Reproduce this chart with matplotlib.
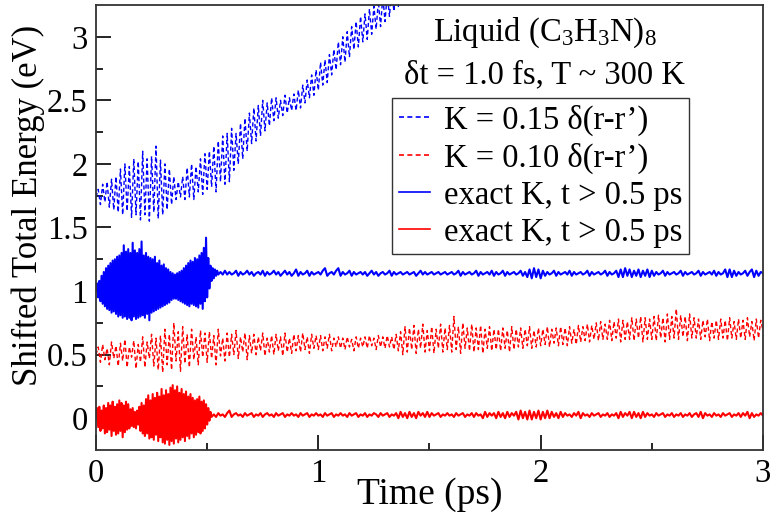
import numpy as np
import matplotlib
matplotlib.use("Agg")
import matplotlib.pyplot as plt

plt.rcParams['font.family'] = ['Liberation Serif', 'DejaVu Serif']
plt.rcParams['mathtext.fontset'] = 'custom'
plt.rcParams['mathtext.rm'] = 'Liberation Serif'
plt.rcParams['mathtext.it'] = 'Liberation Serif:italic'

# ---------------- data ----------------
# K = 0.15 delta(r-r'), sampled every 0.01 ps from t = 0
blue_dashed = [
    1.74,1.80,1.68,1.84,1.70,1.86,1.66,1.88,1.64,1.90,
    1.62,1.96,1.60,2.00,1.63,1.98,1.58,2.04,1.60,2.02,
    1.56,2.10,1.60,2.04,1.55,2.06,1.62,2.14,1.57,2.03,
    1.60,2.00,1.64,1.96,1.68,1.90,1.72,1.86,1.74,1.90,
    1.72,1.97,1.74,2.00,1.72,1.98,1.78,2.04,1.76,2.08,
    1.80,2.10,1.82,2.14,1.78,2.18,1.86,2.22,1.84,2.24,
    1.86,2.28,1.95,2.24,2.00,2.32,2.04,2.36,2.10,2.40,
    2.16,2.44,2.18,2.46,2.22,2.50,2.26,2.48,2.30,2.52,
    2.34,2.52,2.36,2.50,2.38,2.54,2.40,2.52,2.42,2.55,
    2.42,2.58,2.44,2.62,2.48,2.66,2.52,2.70,2.54,2.74,
    2.58,2.80,2.62,2.82,2.64,2.86,2.70,2.90,2.74,2.96,
    2.78,3.00,2.80,3.04,2.84,3.08,2.90,3.12,2.92,3.16,
    2.96,3.18,2.98,3.22,3.02,3.24,3.06,3.28,3.08,3.32,
    3.12,3.34,3.16,3.38,3.20,3.40,3.24,3.44,3.28,3.46,3.32]

# K = 0.10 delta(r-r'), sampled every 0.01 ps from t = 0
red_dashed = [
    0.50,0.56,0.44,0.58,0.46,0.55,0.42,0.60,0.47,0.57,
    0.41,0.59,0.45,0.62,0.40,0.56,0.48,0.61,0.39,0.58,
    0.44,0.64,0.40,0.60,0.47,0.66,0.41,0.63,0.38,0.65,
    0.36,0.70,0.42,0.66,0.38,0.75,0.45,0.68,0.37,0.72,
    0.43,0.66,0.40,0.70,0.46,0.64,0.42,0.69,0.48,0.67,
    0.44,0.68,0.47,0.65,0.42,0.70,0.49,0.63,0.45,0.67,
    0.48,0.66,0.50,0.69,0.47,0.64,0.52,0.67,0.46,0.65,
    0.51,0.66,0.50,0.64,0.53,0.67,0.49,0.63,0.52,0.65,
    0.50,0.66,0.53,0.64,0.49,0.67,0.52,0.63,0.51,0.66,
    0.53,0.65,0.52,0.67,0.54,0.64,0.51,0.66,0.55,0.65,
    0.54,0.65,0.53,0.64,0.55,0.66,0.53,0.63,0.56,0.64,
    0.55,0.63,0.54,0.64,0.56,0.62,0.53,0.64,0.55,0.63,
    0.56,0.64,0.55,0.65,0.57,0.63,0.54,0.65,0.56,0.64,
    0.55,0.65,0.56,0.64,0.54,0.66,0.53,0.68,0.50,0.72,
    0.52,0.71,0.54,0.73,0.51,0.70,0.55,0.74,0.52,0.69,
    0.53,0.72,0.51,0.70,0.55,0.74,0.52,0.71,0.54,0.73,
    0.52,0.80,0.54,0.72,0.51,0.75,0.55,0.71,0.53,0.74,
    0.52,0.71,0.54,0.73,0.51,0.70,0.55,0.72,0.53,0.70,
    0.54,0.70,0.53,0.71,0.55,0.69,0.52,0.72,0.54,0.70,
    0.56,0.71,0.55,0.70,0.57,0.72,0.55,0.69,0.56,0.71,
    0.57,0.70,0.58,0.72,0.56,0.70,0.59,0.71,0.57,0.72,
    0.58,0.71,0.57,0.72,0.59,0.70,0.58,0.73,0.60,0.72,
    0.61,0.74,0.60,0.73,0.62,0.75,0.61,0.76,0.62,0.74,
    0.62,0.77,0.61,0.76,0.63,0.78,0.60,0.77,0.62,0.76,
    0.62,0.79,0.61,0.78,0.63,0.80,0.60,0.79,0.62,0.78,
    0.62,0.80,0.61,0.81,0.63,0.79,0.60,0.82,0.62,0.80,
    0.63,0.86,0.62,0.81,0.64,0.80,0.61,0.82,0.63,0.79,
    0.63,0.78,0.62,0.77,0.64,0.78,0.61,0.76,0.63,0.77,
    0.62,0.78,0.63,0.77,0.61,0.79,0.63,0.76,0.62,0.78,
    0.63,0.77,0.62,0.79,0.64,0.76,0.61,0.78,0.63,0.77,
    0.69]

# exact K (blue): first part every 0.005 ps (t = 0 .. 0.55), then every 0.01 ps
blue_solid_early = [
    1.00,1.06,0.95,1.08,0.92,1.12,0.90,1.15,0.88,1.18,
    0.86,1.20,0.85,1.22,0.83,1.24,0.84,1.25,0.82,1.27,
    0.80,1.28,0.81,1.30,0.79,1.36,0.80,1.31,0.78,1.33,
    0.79,1.30,0.77,1.38,0.80,1.32,0.78,1.30,0.79,1.33,
    0.80,1.39,0.81,1.28,0.79,1.30,0.82,1.27,0.77,1.26,
    0.83,1.25,0.84,1.27,0.85,1.22,0.86,1.24,0.87,1.20,
    0.88,1.21,0.89,1.18,0.90,1.17,0.91,1.15,0.93,1.14,
    0.94,1.13,0.94,1.14,0.93,1.15,0.92,1.16,0.91,1.18,
    0.90,1.20,0.89,1.22,0.88,1.24,0.90,1.23,0.89,1.26,
    0.88,1.25,0.87,1.28,0.90,1.30,0.86,1.34,0.92,1.42,
    0.95,1.26,1.02,1.20,1.08,1.18,1.10,1.17,1.12,1.16,1.13]
blue_solid_late = [  # t = 0.56 .. 3.00
    1.15,1.13,1.16,1.13,
    1.15,1.13,1.14,1.16,1.12,1.15,1.13,1.14,1.16,1.13,
    1.15,1.12,1.14,1.15,1.13,1.16,1.12,1.15,1.13,1.14,
    1.16,1.13,1.15,1.12,1.14,1.16,1.13,1.15,1.12,1.14,
    1.17,1.12,1.15,1.13,1.14,1.16,1.12,1.15,1.13,1.14,
    1.15,1.13,1.16,1.18,1.12,1.14,1.15,1.13,1.16,1.18,
    1.12,1.15,1.13,1.14,1.16,1.12,1.15,1.13,1.14,1.15,
    1.13,1.15,1.12,1.14,1.16,1.13,1.15,1.12,1.14,1.15,
    1.13,1.14,1.16,1.12,1.15,1.13,1.14,1.15,1.13,1.14,
    1.15,1.13,1.14,1.15,1.12,1.14,1.16,1.13,1.15,1.13,
    1.14,1.15,1.13,1.14,1.15,1.13,1.14,1.15,1.13,1.14,
    1.15,1.13,1.14,1.16,1.12,1.15,1.13,1.14,1.15,1.13,
    1.14,1.16,1.12,1.15,1.13,1.14,1.15,1.13,1.16,1.12,
    1.15,1.13,1.14,1.16,1.12,1.15,1.13,1.14,1.15,1.13,
    1.14,1.16,1.12,1.15,1.11,1.17,1.10,1.18,1.11,1.17,
    1.10,1.16,1.12,1.15,1.13,1.14,1.16,1.12,1.15,1.13,
    1.14,1.15,1.13,1.16,1.12,1.15,1.13,1.14,1.15,1.13,
    1.14,1.16,1.12,1.15,1.13,1.14,1.15,1.13,1.14,1.16,
    1.12,1.15,1.13,1.14,1.16,1.11,1.17,1.11,1.18,1.12,
    1.17,1.11,1.16,1.12,1.17,1.11,1.16,1.12,1.17,1.11,
    1.16,1.12,1.15,1.13,1.14,1.16,1.12,1.15,1.13,1.14,
    1.15,1.13,1.14,1.16,1.12,1.15,1.13,1.14,1.15,1.13,
    1.14,1.16,1.12,1.15,1.13,1.14,1.15,1.13,1.16,1.12,
    1.15,1.13,1.14,1.17,1.11,1.17,1.11,1.16,1.12,1.15,
    1.13,1.14,1.16,1.12,1.15,1.17,1.11,1.16,1.12,1.15,
    1.14]

# exact K (red): first part every 0.005 ps (t = 0 .. 0.52), then every 0.01 ps
red_solid_early = [
    0.00,0.08,-0.07,0.09,-0.10,0.06,-0.08,0.10,-0.12,0.08,
    -0.11,0.12,-0.09,0.10,-0.14,0.13,-0.10,0.09,-0.13,0.11,
    -0.12,0.14,-0.10,0.12,-0.15,0.10,-0.11,0.13,-0.09,0.11,
    -0.08,0.07,-0.06,0.08,-0.07,0.05,-0.08,0.06,-0.05,0.09,
    -0.10,0.12,-0.12,0.10,-0.14,0.15,-0.12,0.18,-0.16,0.14,
    -0.15,0.19,-0.17,0.16,-0.13,0.20,-0.18,0.17,-0.15,0.23,
    -0.19,0.18,-0.20,0.22,-0.17,0.19,-0.21,0.24,-0.18,0.26,
    -0.20,0.22,-0.16,0.25,-0.19,0.20,-0.17,0.23,-0.15,0.19,
    -0.18,0.21,-0.14,0.17,-0.16,0.19,-0.12,0.16,-0.15,0.14,
    -0.13,0.15,-0.11,0.17,-0.12,0.13,-0.10,0.14,-0.08,0.11,
    -0.05,0.08,-0.02,0.05,0.01]
red_solid_late = [  # t = 0.53 .. 3.00
    0.03,0.01,0.04,0.02,0.03,0.01,0.04,
    0.06,0.01,0.03,0.04,0.02,0.03,0.01,0.04,0.02,0.03,
    0.04,0.01,0.03,0.02,0.04,0.01,0.03,0.04,0.02,0.03,
    0.01,0.04,0.02,0.03,0.04,0.01,0.03,0.02,0.04,0.02,
    0.03,0.01,0.04,0.02,0.03,0.04,0.01,0.03,0.02,0.04,
    0.02,0.03,0.01,0.04,0.02,0.03,0.04,0.01,0.03,0.02,
    0.04,0.02,0.03,0.01,0.04,0.02,0.03,0.04,0.01,0.03,
    0.02,0.04,0.01,0.03,0.02,0.04,0.03,0.01,0.04,0.02,
    0.03,0.04,0.01,0.03,0.02,0.04,0.00,0.05,0.01,0.04,
    0.00,0.05,0.01,0.04,0.00,0.05,0.02,0.04,0.01,0.05,
    0.01,0.04,0.02,0.03,0.04,0.01,0.03,0.02,0.04,0.02,
    0.03,0.01,0.04,0.02,0.03,0.04,0.01,0.03,0.02,0.04,
    0.01,0.04,0.02,0.03,0.00,0.05,0.01,0.04,0.02,0.04,
    0.00,0.05,0.01,0.04,0.00,0.05,0.01,0.04,0.02,0.05,
    -0.01,0.06,0.00,0.05,-0.01,0.06,-0.01,0.05,0.00,0.06,
    -0.01,0.05,0.00,0.06,0.00,0.05,0.01,0.04,0.00,0.05,
    0.01,0.04,0.02,0.03,0.01,0.04,0.02,0.05,0.00,0.04,
    0.02,0.03,0.01,0.04,0.02,0.03,0.04,0.01,0.03,0.02,
    0.04,0.01,0.03,0.02,0.04,0.00,0.05,0.01,0.04,0.02,
    0.05,0.00,0.05,0.01,0.04,0.00,0.05,0.01,0.04,0.02,
    0.03,0.01,0.04,0.02,0.03,0.04,0.01,0.03,0.02,0.04,
    0.01,0.03,0.02,0.04,0.01,0.03,0.02,0.04,0.01,0.03,
    0.04,0.01,0.05,0.00,0.04,0.02,0.03,0.01,0.04,0.02,
    0.03,0.01,0.04,0.02,0.03,0.04,0.01,0.03,0.02,0.04,
    0.01,0.04,0.02,0.05,0.00,0.04,0.01,0.03,0.02,0.04,
    0.02]

labels = ["K = 0.15 δ(r-r’)", "K = 0.10 δ(r-r’)",
          "exact K, t > 0.5 ps", "exact K, t > 0.5 ps"]
title_lines = ["Liquid (C$_3$H$_3$N)$_8$", "δt = 1.0 fs, T ~ 300 K"]
x_ticks = [0, 1, 2, 3]
y_ticks = [0, 0.5, 1, 1.5, 2, 2.5, 3]
y_tick_labels = ["0", "0.5", "1", "1.5", "2", "2.5", "3"]

# time grids
t_bd = 0.01 * np.arange(len(blue_dashed))
t_rd = 0.01 * np.arange(len(red_dashed))
t_bs = np.concatenate([0.005 * np.arange(len(blue_solid_early)),
                       0.56 + 0.01 * np.arange(len(blue_solid_late))])
t_rs = np.concatenate([0.005 * np.arange(len(red_solid_early)),
                       0.53 + 0.01 * np.arange(len(red_solid_late))])
blue_solid = blue_solid_early + blue_solid_late
red_solid = red_solid_early + red_solid_late

# ---------------- figure ----------------
fig = plt.figure(figsize=(7.71, 5.21), dpi=100)
ax = fig.add_axes([0.1245, 0.1363, 0.8651, 0.8541])

BLUE = "#0000ff"
RED = "#ff0000"
dash = (0, (3.0, 2.0))
l1, = ax.plot(t_bd, blue_dashed, color=BLUE, lw=1.0, linestyle=dash)
l2, = ax.plot(t_rd, red_dashed, color=RED, lw=1.0, linestyle=dash)
l3, = ax.plot(t_bs, blue_solid, color=BLUE, lw=1.5)
l4, = ax.plot(t_rs, red_solid, color=RED, lw=1.5)

ax.set_xlim(0, 3)
ax.set_ylim(-0.25, 3.25)
ax.set_xticks(x_ticks)
ax.set_xticks([0.5, 1.5, 2.5], minor=True)
ax.set_yticks(y_ticks)
ax.set_yticklabels(y_tick_labels)
ax.set_yticks([0.25, 0.75, 1.25, 1.75, 2.25, 2.75], minor=True)
ax.tick_params(which='both', direction='in', top=False, right=False,
               labelsize=23.5, width=1.2, colors='black', pad=6)
ax.tick_params(which='major', length=10.5)
ax.tick_params(which='minor', length=5)
for s in ax.spines.values():
    s.set_linewidth(1.3)
    s.set_color('#333333')

ax.set_xlabel("Time (ps)", fontsize=27, labelpad=-8)
ax.set_ylabel("Shifted Total Energy (eV)", fontsize=25)
ax.yaxis.set_label_coords(-0.076, 0.55)

ax.text(0.673, 0.937, title_lines[0], transform=ax.transAxes,
        ha='center', va='center', fontsize=23.5)
ax.text(0.673, 0.843, title_lines[1], transform=ax.transAxes,
        ha='center', va='center', fontsize=23.5)

leg = ax.legend([l1, l2, l3, l4], labels, loc='upper left',
                bbox_to_anchor=(0.4438, 0.791), fontsize=23.5,
                frameon=True, fancybox=False, edgecolor='black',
                handlelength=0.95, handletextpad=0.45, borderpad=0.2,
                labelspacing=0.2, borderaxespad=0)
leg.get_frame().set_linewidth(1.0)
for h in leg.get_lines():
    h.set_linewidth(1.2)

fig.savefig("out.png", dpi=100)
